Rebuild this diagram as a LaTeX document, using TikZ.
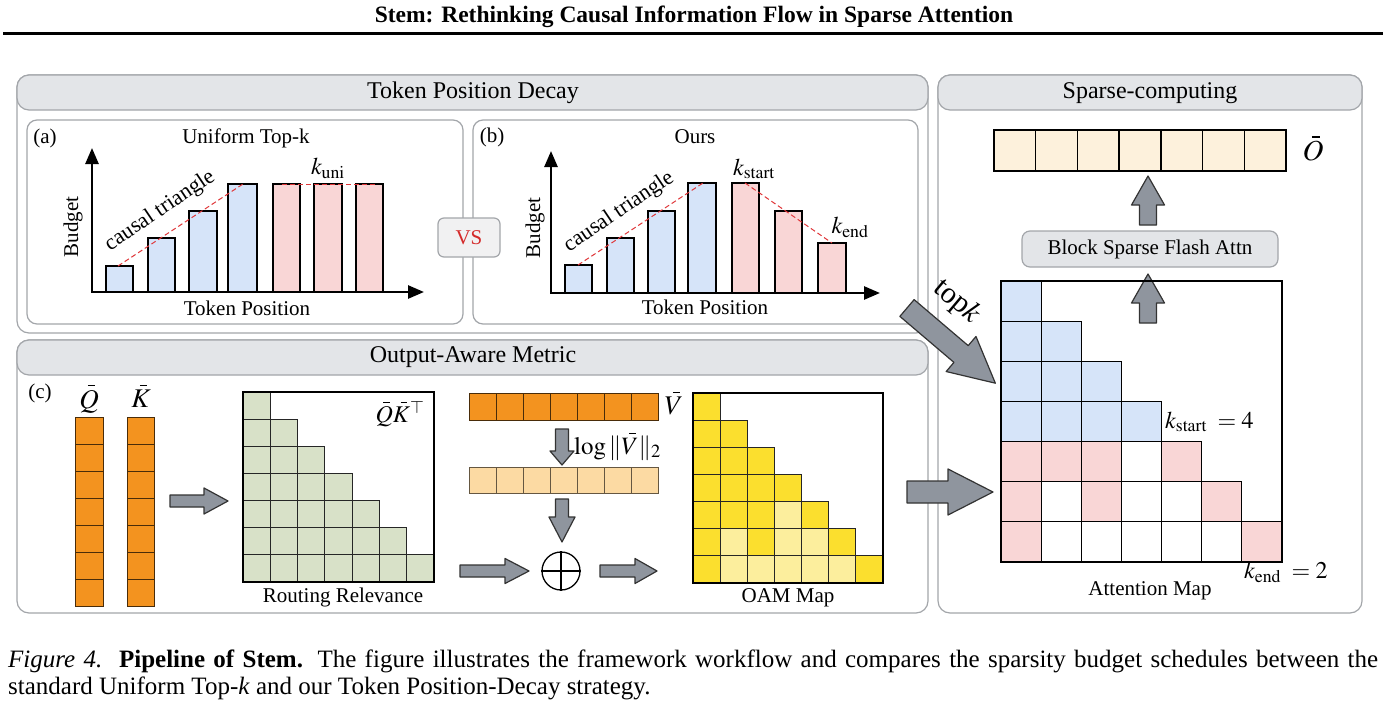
\documentclass[tikz,border=0pt]{standalone}
\usepackage{mathptmx}
\usepackage{fontspec}
\setmainfont{Liberation Serif}
\usetikzlibrary{arrows.meta}
\definecolor{hdrgray}{HTML}{E3E5E8}
\definecolor{bordgray}{HTML}{A3A6AA}
\definecolor{barblue}{HTML}{D6E4F9}
\definecolor{barpink}{HTML}{F9D6D6}
\definecolor{dashred}{HTML}{E0373A}
\definecolor{arrgray}{HTML}{8F959E}
\definecolor{qorange}{HTML}{F3931F}
\definecolor{lorange}{HTML}{FCDAA3}
\definecolor{rgreen}{HTML}{D8E1C8}
\definecolor{oamy}{HTML}{FBDF2E}
\definecolor{oamly}{HTML}{FCEE9D}
\definecolor{obeige}{HTML}{FDF1DC}
\definecolor{vsred}{HTML}{D42A2A}
\definecolor{vsfill}{HTML}{F1F1F2}
\newcommand\garrow[7]{%
  \begin{scope}[shift={(#1,#2)},rotate=#3]
  \draw[garr] (0,-#5) -- ({#4-#7},-#5) -- ({#4-#7},-#6) -- (#4,0) -- ({#4-#7},#6) -- ({#4-#7},#5) -- (0,#5) -- cycle;
  \end{scope}}
% bar over an italic letter, drawn as a rule
\newcommand\mybar[1]{\mbox{\ooalign{$#1$\cr\hidewidth\kern0.2em\rule[0.8em]{0.28em}{0.05em}\hidewidth\cr}}}
\begin{document}
\begin{tikzpicture}[x=1pt,y=-1pt,
  lbl/.style={font=\fontsize{21}{24}\selectfont, inner sep=0pt},
  hdr/.style={font=\fontsize{24}{28}\selectfont, inner sep=0pt},
  mth/.style={font=\fontsize{24}{28}\selectfont, inner sep=0pt},
  panel/.style={draw=bordgray, line width=1.2pt, rounded corners=12pt, fill=white},
  hbar/.style={draw=bordgray, line width=1.2pt, rounded corners=12pt, fill=hdrgray},
  bar/.style={draw=black, line width=1.6pt},
  axis/.style={line width=2.6pt, -{Triangle[length=16pt,width=13pt]}},
  dsh/.style={draw=dashred, line width=1pt, dash pattern=on 5pt off 3pt},
  garr/.style={fill=arrgray, draw=black!80, line width=1.2pt, line join=round},
  cellline/.style={draw=black, line width=1.2pt},
  qcell/.style={draw=black!70!qorange, line width=1pt, fill=qorange}
]
\useasboundingbox (0,0) rectangle (1386,709);
% title
\node[font=\fontsize{23.5}{28}\selectfont\bfseries, inner sep=0pt] (title) at (694,17) {Stem: Rethinking Causal Information Flow in Sparse Attention};
\draw[line width=3pt] (3,34) -- (1383,34);

% ===== Token Position Decay panel
\draw[panel] (17,75) rectangle (928,333);
\draw[hbar] (17,75) rectangle (928,110);
\node[hdr] (hTPD) at (473,93) {Token Position Decay};
\draw[panel, rounded corners=10pt] (27,120) rectangle (463,324);
\draw[panel, rounded corners=10pt] (473,120) rectangle (918,324);

% (a)
\node[lbl] (la) at (45,138) {(a)};
\node[lbl] (ta) at (246,138) {Uniform Top-k};
\draw[bar, fill=barblue] (106,292) rectangle (133,266);
\draw[bar, fill=barblue] (148,292) rectangle (175,238);
\draw[bar, fill=barblue] (189,292) rectangle (217,211);
\draw[bar, fill=barblue] (228,292) rectangle (257,184);
\draw[bar, fill=barpink] (273,292) rectangle (300,184);
\draw[bar, fill=barpink] (314,292) rectangle (342,184);
\draw[bar, fill=barpink] (356,292) rectangle (383,184);
\draw[axis] (92,292) -- (92,148);
\draw[axis] (91,292) -- (424,292);
\draw[dsh] (118,266) -- (243,184);
\draw[dsh] (282,184) -- (375,184);
\node[font=\fontsize{22}{25}\selectfont, inner sep=0pt, rotate=34] (cta) at (160,211) {causal triangle};
\node[lbl, rotate=90] (bua) at (73,227) {Budget};
\node[lbl] (tpa) at (247,308) {Token Position};
\node[mth] (kuni) at (328,168) {$k_{\mathrm{uni}}$};

% (b)
\node[lbl] (lb) at (492,137) {(b)};
\node[lbl] (tb) at (695,137) {Ours};
\draw[bar, fill=barblue] (565,293) rectangle (592,265);
\draw[bar, fill=barblue] (607,293) rectangle (634,238);
\draw[bar, fill=barblue] (648,293) rectangle (675,211);
\draw[bar, fill=barblue] (688,293) rectangle (716,183);
\draw[bar, fill=barpink] (732,293) rectangle (759,183);
\draw[bar, fill=barpink] (775,293) rectangle (802,211);
\draw[bar, fill=barpink] (818,293) rectangle (846,243);
\draw[axis] (551,293) -- (551,151);
\draw[axis] (550,293) -- (880,293);
\draw[dsh] (578,265) -- (703,183);
\draw[dsh] (745,183) -- (832,243);
\node[font=\fontsize{22}{25}\selectfont, inner sep=0pt, rotate=34] (ctb) at (619,212) {causal triangle};
\node[lbl, rotate=90] (bub) at (535,228) {Budget};
\node[lbl] (tpb) at (705,307) {Token Position};
\node[mth] (kst) at (754,169) {$k_{\mathrm{start}}$};
\node[mth] (ken) at (850,227) {$k_{\mathrm{end}}$};

% VS
\node[draw=bordgray, line width=1.2pt, fill=vsfill, rounded corners=6pt, minimum width=62pt, minimum height=39pt, inner sep=0pt, text=vsred, font=\fontsize{21}{24}\selectfont] (vs) at (469,237.5) {VS};

% ===== Output-Aware Metric panel
\draw[panel] (17,340) rectangle (928,613);
\draw[hbar] (17,340) rectangle (928,375);
\node[hdr] (hOAM) at (473,357) {Output-Aware Metric};
\node[lbl] (lc) at (40,393) {(c)};
\node[font=\fontsize{27}{30}\selectfont, inner sep=0pt] (Qb) at (89,399) {\mybar{Q}};
\node[font=\fontsize{27}{30}\selectfont, inner sep=0pt] (Kb) at (141,399) {\mybar{K}};
\foreach \i in {0,...,6}{
  \draw[qcell] (75,{417+\i*27.14}) rectangle (103,{417+(\i+1)*27.14});
  \draw[qcell] (127,{417+\i*27.14}) rectangle (154,{417+(\i+1)*27.14});
}
\garrow{170}{501}{0}{58}{6}{13}{24}
% routing relevance
\foreach \r in {0,...,6}{\foreach \c in {0,...,\r}{
  \draw[draw=black!85, line width=1pt, fill=rgreen] ({243+\c*27.29},{392+\r*27.14}) rectangle ++(27.29,27.14);}}
\draw[line width=1.5pt] (243,392) rectangle (434,582);
\node[font=\fontsize{24}{28}\selectfont, inner sep=0pt] (QK) at (400,412) {$\mybar{Q}\mybar{K}^{\top}$};
\node[lbl] (rr) at (343,597) {Routing Relevance};
% V
\foreach \i in {0,...,6}{
  \draw[qcell] ({469+\i*27.14},393) rectangle ({469+(\i+1)*27.14},420);
  \draw[draw=black!60!lorange, line width=1pt, fill=lorange] ({469+\i*27.14},467) rectangle ({469+(\i+1)*27.14},493);
}
\node[font=\fontsize{27}{30}\selectfont, inner sep=0pt] (Vb) at (674,406) {\mybar{V}};
\garrow{562}{429}{-90}{36}{6.5}{12}{14}
\node[font=\fontsize{25}{28}\selectfont, inner sep=0pt, anchor=west] (lg) at (574,448) {$\log\|\mybar{V}\|_2$};
\garrow{562}{499}{-90}{43}{6.5}{13}{25}
\node[draw=black, line width=1.3pt, circle, minimum size=38pt, inner sep=0pt] (plus) at (561,571) {};
\draw[line width=1.1pt] (plus.north) -- (plus.south) (plus.west) -- (plus.east);
\garrow{460}{571}{0}{69}{6}{12.5}{24}
\garrow{600}{571}{0}{57}{6}{12.5}{22}
% OAM map
\foreach \r in {0,...,3}{\foreach \c in {0,...,\r}{
  \draw[draw=black!85, line width=1pt, fill=oamy] ({693+\c*27.14},{393+\r*27.14}) rectangle ++(27.14,27.14);}}
\foreach \r/\c/\f in {4/0/oamy,4/1/oamy,4/2/oamy,4/3/oamly,4/4/oamy,
  5/0/oamy,5/1/oamly,5/2/oamy,5/3/oamly,5/4/oamly,5/5/oamy,
  6/0/oamy,6/1/oamly,6/2/oamly,6/3/oamly,6/4/oamly,6/5/oamly,6/6/oamy}{
  \draw[draw=black!85, line width=1pt, fill=\f] ({693+\c*27.14},{393+\r*27.14}) rectangle ++(27.14,27.14);}
\draw[line width=1.5pt] (693,393) rectangle (883,583);
\node[lbl] (oam) at (788,598) {OAM Map};

% ===== Sparse-computing panel
\draw[panel] (938,75) rectangle (1362,613);
\draw[hbar] (938,75) rectangle (1362,110);
\node[hdr] (hSC) at (1150,93) {Sparse-computing};
\foreach \i in {0,...,6}{
  \draw[draw=black, line width=1.3pt, fill=obeige] ({994+\i*41.71},130) rectangle ({994+(\i+1)*41.71},171);}
\node[font=\fontsize{29}{32}\selectfont, inner sep=0pt] (Ob) at (1313,151) {\mybar{O}};
\garrow{1148}{225}{90}{49}{8.5}{16.5}{29}
\node[draw=bordgray, line width=1.2pt, fill=hdrgray, rounded corners=8pt, minimum width=256pt, minimum height=36pt, inner sep=0pt, font=\fontsize{21}{24}\selectfont] (bsfa) at (1150,249) {Block Sparse Flash Attn};
\garrow{1148}{323}{90}{49}{8.5}{16.5}{29}
% attention map
\foreach \r in {0,...,3}{\foreach \c in {0,...,\r}{
  \draw[cellline, fill=barblue] ({1001+\c*40.14},{281+\r*40.14}) rectangle ++(40.14,40.14);}}
\foreach \r/\c/\f in {4/0/barpink,4/1/barpink,4/2/barpink,4/3/white,4/4/barpink,
  5/0/barpink,5/1/white,5/2/barpink,5/3/white,5/4/white,5/5/barpink,
  6/0/barpink,6/1/white,6/2/white,6/3/white,6/4/white,6/5/white,6/6/barpink}{
  \draw[cellline, fill=\f] ({1001+\c*40.14},{281+\r*40.14}) rectangle ++(40.14,40.14);}
\draw[line width=1.6pt] (1001,281) rectangle (1282,562);
\node[mth, anchor=west] (kst2) at (1165,422) {$k_{\mathrm{start}}\;=4$};
\node[mth, anchor=west] (ken2) at (1244,572) {$k_{\mathrm{end}}\;=2$};
\node[lbl] (am) at (1150,591) {Attention Map};
% arrows into attention map
\garrow{907}{308}{-40.4}{116}{11}{23}{45}
\node[font=\fontsize{30}{33}\selectfont, inner sep=0pt, rotate=-40] (topk) at (957,302) {top$k$};
\garrow{907}{492}{0}{86}{11}{23}{45}

% caption
\node[anchor=west, inner sep=0pt, font=\fontsize{25}{27}\selectfont] (cap1) at (8,661) {\makebox[1370pt][s]{\textit{Figure 4.}\ \ \textbf{Pipeline of Stem.} The figure illustrates the framework workflow and compares the sparsity budget schedules between the}};
\node[anchor=west, inner sep=0pt, font=\fontsize{25}{27}\selectfont] (cap2) at (8,688) {standard Uniform Top-\textit{k} and our Token Position-Decay strategy.};
\end{tikzpicture}
\end{document}
